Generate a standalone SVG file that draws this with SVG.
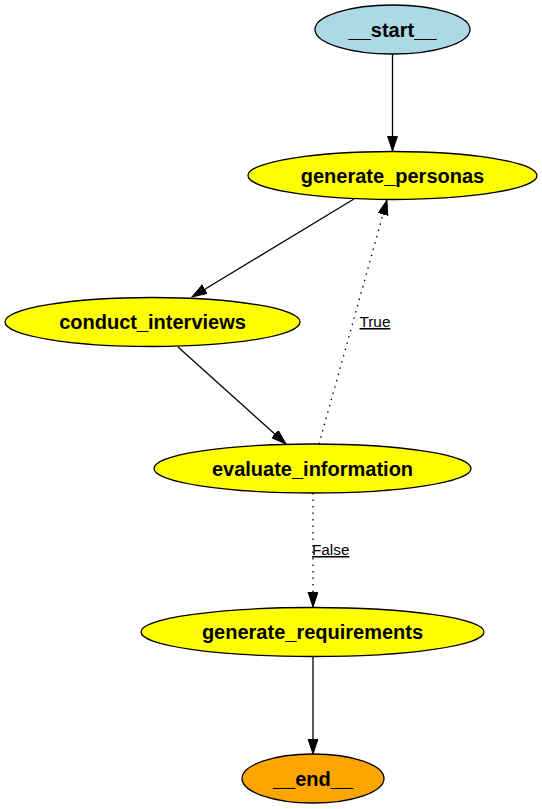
<svg xmlns="http://www.w3.org/2000/svg" width="542" height="809" viewBox="0 0 542 809">
<style>
.node ellipse{stroke:#000;stroke-width:1.3}
.node text{font-family:"Liberation Sans",Arial,sans-serif;font-weight:bold;font-size:20px;text-anchor:middle;fill:#000}
.edge{fill:none;stroke:#000;stroke-width:1.3}
.dot{stroke-dasharray:1.5,5}
.lbl{font-family:"Liberation Sans",Arial,sans-serif;font-size:15.3px;fill:#000;text-decoration:underline}
</style>
<defs>
<marker id="ah" markerUnits="userSpaceOnUse" markerWidth="16" markerHeight="11" refX="15" refY="5" orient="auto">
<path d="M0,0 L15,5 L0,10 z" fill="#000" stroke="#000" stroke-width="1"/>
</marker>
</defs>
<rect width="542" height="809" fill="#fff"/>
<g id="connectors">
<line class="edge" x1="392.5" y1="54" x2="392.5" y2="151" marker-end="url(#ah)"/>
<line class="edge" x1="354" y1="199" x2="192" y2="297" marker-end="url(#ah)"/>
<line class="edge" x1="178" y1="347" x2="286" y2="444" marker-end="url(#ah)"/>
<line class="edge dot" x1="319" y1="444" x2="387" y2="200" marker-end="url(#ah)"/>
<text class="lbl" x="359.5" y="327">True</text>
<line class="edge dot" x1="313" y1="493" x2="313" y2="607" marker-end="url(#ah)"/>
<text class="lbl" x="312" y="555">False</text>
<line class="edge" x1="313" y1="656" x2="313" y2="754" marker-end="url(#ah)"/>
</g>
<g id="start" class="node"><ellipse cx="392.5" cy="29.5" rx="77.5" ry="24.5" fill="#add8e6"/><text x="392.5" y="36.5">__start__</text></g>
<g id="generate_personas" class="node"><ellipse cx="392.5" cy="175.5" rx="144.5" ry="24" fill="#ffff00"/><text x="392.5" y="182.5">generate_personas</text></g>
<g id="conduct_interviews" class="node"><ellipse cx="152.5" cy="322" rx="147.5" ry="24.5" fill="#ffff00"/><text x="152.5" y="329">conduct_interviews</text></g>
<g id="evaluate_information" class="node"><ellipse cx="312.5" cy="468.5" rx="158.5" ry="24.5" fill="#ffff00"/><text x="312.5" y="475.5">evaluate_information</text></g>
<g id="generate_requirements" class="node"><ellipse cx="312.5" cy="632" rx="171.5" ry="24.5" fill="#ffff00"/><text x="312.5" y="639">generate_requirements</text></g>
<g id="end" class="node"><ellipse cx="313" cy="778.5" rx="71" ry="24.5" fill="#ffa500"/><text x="313" y="785.5">__end__</text></g>
</svg>
